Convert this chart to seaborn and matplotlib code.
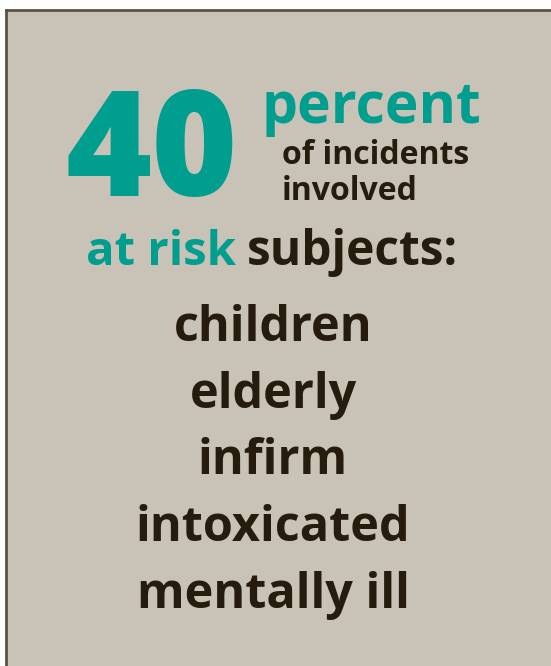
import matplotlib
matplotlib.use('Agg')
import matplotlib.pyplot as plt
import seaborn as sns

# text content of the infographic
big_number = '40'
unit_word = 'percent'
sub_lines = ['of incidents', 'involved']
sub_baselines = [164, 200]
lead_teal = 'at risk'
lead_dark = 'subjects:'
groups = ['children', 'elderly', 'infirm', 'intoxicated', 'mentally ill']
group_baselines = [341, 408, 474, 541, 608]

bg = '#c9c2b6'
teal = '#009e8f'
dark = '#251c0e'
edge = '#5a5344'

sns.set_theme(style='white')
plt.rcParams['font.family'] = ['Open Sans', 'DejaVu Sans']

fig = plt.figure(figsize=(5.51, 6.66), dpi=100, facecolor='white')
ax = fig.add_axes([6 / 551, 0, 545 / 551, 656 / 666])
ax.set_xlim(6, 551)
ax.set_ylim(666, 10)
ax.set_facecolor(bg)
ax.set_xticks([])
ax.set_yticks([])
for side in ['right', 'bottom']:
    ax.spines[side].set_visible(False)
for side in ['left', 'top']:
    ax.spines[side].set_color(edge)
    ax.spines[side].set_linewidth(2)

ax.text(66, 196, big_number, color=teal, fontsize=106, fontweight='heavy',
        ha='left', va='baseline')
ax.text(262, 123, unit_word, color=teal, fontsize=41, fontweight='bold',
        ha='left', va='baseline')
for line, y in zip(sub_lines, sub_baselines):
    ax.text(282, y, line, color=dark, fontsize=23, fontweight='bold',
            ha='left', va='baseline')
ax.text(236, 265, lead_teal, color=teal, fontsize=34, fontweight='bold',
        ha='right', va='baseline')
ax.text(247, 265, lead_dark, color=dark, fontsize=34.5, fontweight='bold',
        ha='left', va='baseline')

for word, y in zip(groups, group_baselines):
    ax.text(273, y, word, color=dark, fontsize=35, fontweight='bold',
            ha='center', va='baseline')

fig.savefig('out.png', dpi=100, facecolor='white')
